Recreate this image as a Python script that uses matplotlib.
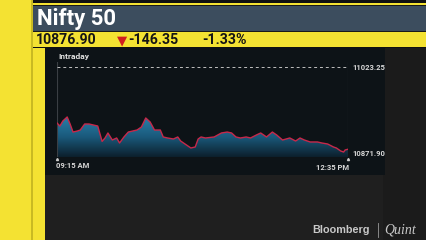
import matplotlib
matplotlib.use("Agg")
import matplotlib.pyplot as plt
from matplotlib.patches import Rectangle
from matplotlib.colors import LinearSegmentedColormap
import numpy as np

plt.rcParams['font.family'] = ['Roboto', 'DejaVu Sans']

# --- data (minutes after 09:15, index level) ---
minutes = [0, 2, 4, 7, 9, 11, 14, 16, 19, 22, 25, 28, 31, 33, 35, 38, 41, 43,
           46, 49, 52, 55, 58, 61, 64, 67, 71, 73, 76, 80, 83, 85, 89, 92, 95,
           97, 99, 102, 108, 113, 117, 120, 123, 126, 130, 133, 137, 140, 144,
           148, 151, 155, 160, 164, 167, 170, 174, 179, 182, 186, 190, 192, 195,
           197, 198, 200]
levels = [10923.6, 10918.2, 10927.1, 10934.3, 10921.8, 10907.5, 10909.3, 10911.1,
          10921.8, 10921.8, 10920.0, 10918.2, 10890.8, 10896.9, 10905.8, 10893.3,
          10896.9, 10888.0, 10898.7, 10907.5, 10909.3, 10911.1, 10916.4, 10932.5,
          10925.4, 10911.1, 10911.1, 10898.7, 10896.9, 10895.1, 10898.7, 10891.5,
          10884.4, 10879.1, 10880.9, 10895.1, 10898.7, 10896.9, 10898.7, 10905.8,
          10907.5, 10905.8, 10898.7, 10896.9, 10898.7, 10896.9, 10902.2, 10905.8,
          10898.7, 10907.5, 10902.2, 10893.3, 10896.9, 10891.5, 10896.9, 10893.3,
          10889.8, 10889.8, 10888.0, 10886.2, 10880.9, 10879.1, 10873.7, 10871.9,
          10875.5, 10876.9]

title = "Nifty 50"
last_price = "10876.90"
change = "-146.35"
change_pct = "-1.33%"
prev_close = "11023.25"
day_low = "10871.90"
time_start = "09:15 AM"
time_end = "12:35 PM"

YELLOW = "#f4e232"
SLATE = "#3c4d5e"

fig = plt.figure(figsize=(4.26, 2.4), dpi=100)
fig.patch.set_facecolor("#1f1f1f")

bg = fig.add_axes([0, 0, 1, 1])
bg.set_xlim(0, 426)
bg.set_ylim(240, 0)
bg.axis("off")

def box(x, y, w, h, c, z=1):
    bg.add_patch(Rectangle((x, y), w, h, facecolor=c, edgecolor="none", zorder=z))

box(0, 0, 426, 240, "#1f1f1f", 0)
box(383, 47, 43, 193, "#1b1b1b")
box(45, 47, 340, 128, "#0d1317")
box(0, 0, 45, 240, YELLOW)
box(31, 0, 2, 240, "#c9ba22", 2)
box(33, 0, 393, 3, "#111111", 2)
box(33, 3, 393, 2, YELLOW, 2)
box(33, 5, 393, 1, "#1a1a1a", 2)
box(33, 6, 393, 25, SLATE, 2)
box(33, 31, 393, 1, "#1a1a1a", 2)
box(33, 32, 393, 15, YELLOW, 2)
box(33, 47, 393, 1, "#111111", 2)

bg.text(37, 19, title, color="white", fontsize=16, fontweight="bold",
        va="center", ha="left", zorder=5)
bg.text(36, 40.5, last_price, color="#151515", fontsize=10.2, fontweight="bold",
        va="center", ha="left", zorder=5)
bg.text(122.5, 40.5, "\u25bc", color="#d01f1f", fontsize=9.5, va="center",
        ha="center", family=["DejaVu Sans"], zorder=5)
bg.text(128, 40.5, change, color="#151515", fontsize=10.2, fontweight="bold",
        va="center", ha="left", zorder=5)
bg.text(202, 40.5, change_pct, color="#151515", fontsize=10.2, fontweight="bold",
        va="center", ha="left", zorder=5)
bg.text(58, 56, "Intraday", color="#e0e0e0", fontsize=6, fontweight="bold",
        va="center", ha="left", zorder=5)

bg.text(352, 67, prev_close, color="#d8d8d8", fontsize=5.5, fontweight="bold",
        va="center", ha="left", zorder=5)
bg.text(352, 153, day_low, color="#d8d8d8", fontsize=5.5, fontweight="bold",
        va="center", ha="left", zorder=5)
bg.text(56, 166, time_start, color="#d8d8d8", fontsize=5.5, fontweight="bold",
        va="center", ha="left", zorder=5)
bg.text(349, 167, time_end, color="#d8d8d8", fontsize=5.5, fontweight="bold",
        va="center", ha="right", zorder=5)
bg.plot([57], [158.5], marker="^", ms=1.5, color="#cccccc", zorder=5)
bg.plot([348], [158.5], marker="^", ms=1.5, color="#cccccc", zorder=5)

bg.text(370, 230, "Bloomberg", color="#c8c8c8", fontsize=7.8, fontweight="bold",
        va="center", ha="right", family=["Liberation Sans"], zorder=5)
bg.plot([378, 378], [223, 237], color="#9a9a9a", lw=0.6, zorder=5)
bg.text(384, 229.5, "Quint", color="#c8c8c8", fontsize=10, style="italic",
        va="center", ha="left", family=["Liberation Serif"], zorder=5)

# --- chart ---
ax = fig.add_axes([57 / 426, (240 - 157) / 240, 291 / 426, 95 / 240])
ax.set_facecolor("none")
ymin, ymax = 10863.05, 11032.15
ax.set_xlim(0, 200)
ax.set_ylim(ymin, ymax)
for s in ax.spines.values():
    s.set_visible(False)
ax.set_xticks([])
ax.set_yticks([])

ax.axvline(0, color="#3a3f44", lw=0.8)
ax.axvline(200, color="#3a3f44", lw=0.8)
ax.axhline(11023.25, color="#c0c0c0", lw=0.7, ls=(0, (3, 3)))

cmap = LinearSegmentedColormap.from_list("fill", ["#0c1f2c", "#1a5a7c", "#2a80ab"])
grad = np.linspace(0, 1, 256).reshape(-1, 1)
img = ax.imshow(grad, cmap=cmap, origin="lower", aspect="auto",
                extent=[0, 200, ymin, 10935], zorder=1)
poly = ax.fill_between(minutes, levels, ymin, color="none", lw=0)
clip = poly.get_paths()[0]
img.set_clip_path(clip, transform=ax.transData)

ax.plot(minutes, levels, color="#c7284a", lw=1.0, zorder=3)

fig.savefig("out.png", dpi=100, facecolor=fig.get_facecolor())
